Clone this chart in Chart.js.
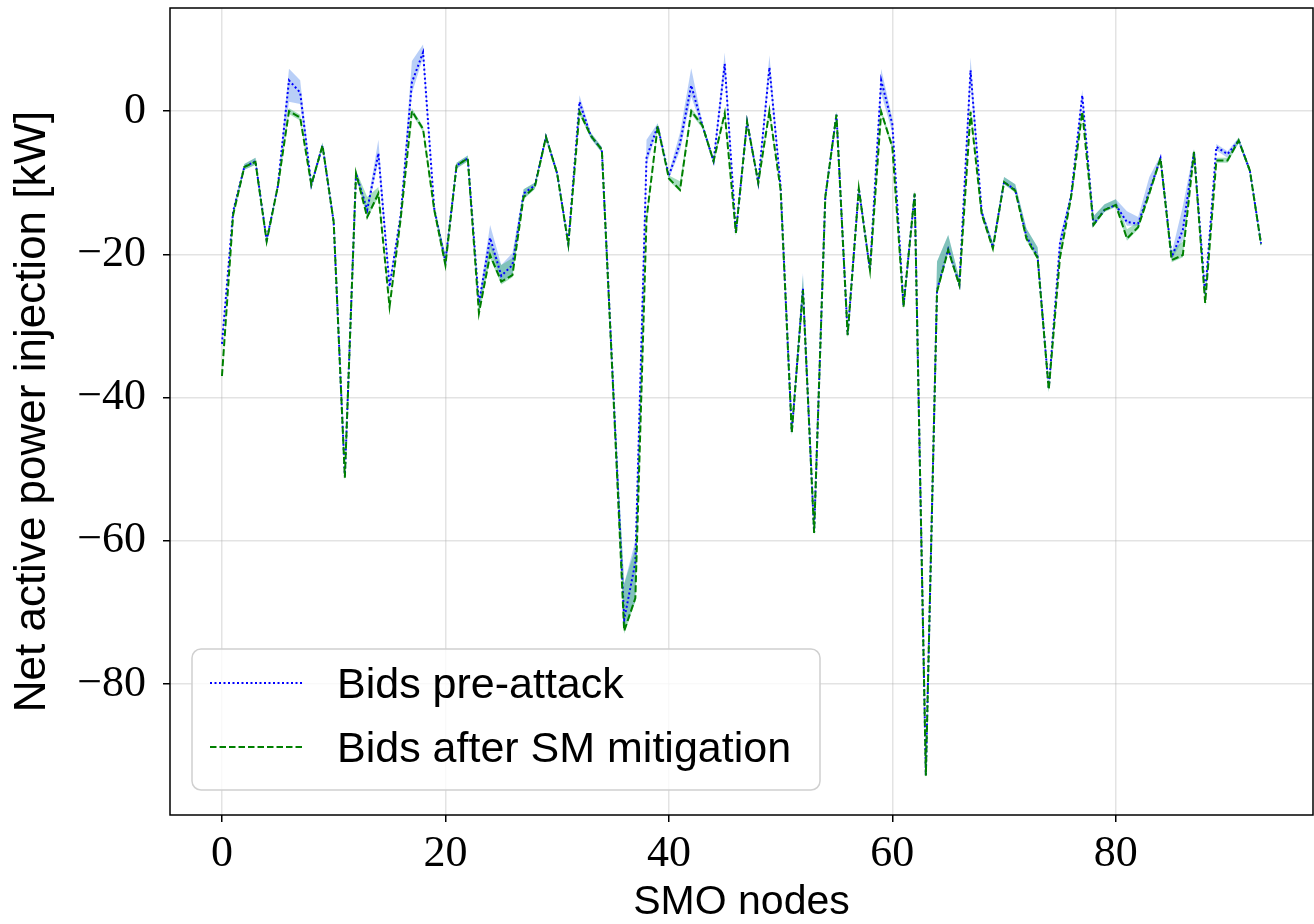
<!DOCTYPE html>
<html>
<head>
<meta charset="utf-8">
<script src="https://cdn.jsdelivr.net/npm/chart.js@4.4.1/dist/chart.umd.min.js"></script>
<style>
  html, body { margin: 0; padding: 0; background: #fff; }
</style>
</head>
<body>
<canvas id="bids-chart" width="1314" height="924"></canvas>
<script>
// SMO node index (x axis)
const nodes = Array.from({ length: 94 }, (_, i) => i);

// net active power injection [kW]
const preAttack = [
  -32.5, -14.0, -7.8, -7.0, -18.0, -10.5, 4.3, 2.6, -10.3, -4.8,
  -15.5, -51.0, -8.7, -13.8, -5.9, -24.5, -14.5, 4.0, 8.2, -13.6,
  -21.0, -7.6, -6.6, -26.8, -17.7, -23.0, -21.5, -11.5, -10.4, -3.6,
  -8.7, -18.5, 1.3, -3.4, -5.4, -38.0, -71.0, -63.0, -6.5, -2.1,
  -9.0, -4.5, 3.6, -2.0, -7.0, 6.6, -17.0, -1.5, -10.0, 6.1,
  -10.5, -44.8, -24.8, -58.8, -12.0, -0.5, -31.2, -10.8, -22.2, 4.3,
  -1.8, -27.2, -11.5, -92.7, -25.0, -19.3, -24.2, 5.7, -14.1, -19.0,
  -9.9, -11.0, -17.5, -20.3, -38.8, -18.5, -11.8, 2.2, -15.8, -13.8,
  -13.1, -15.5, -15.7, -11.2, -6.6, -20.4, -16.6, -5.7, -25.5, -5.0,
  -6.0, -4.1, -8.3, -18.5
];
const preLow = [
  -33.2, -14.5, -8.2, -7.5, -18.4, -10.9, 1.3, 1.0, -10.7, -5.2,
  -15.9, -51.4, -9.1, -14.3, -7.0, -25.2, -15.0, 2.5, 7.5, -14.0,
  -21.5, -8.0, -7.0, -28.0, -19.0, -23.8, -22.9, -12.2, -10.8, -4.0,
  -9.1, -18.9, 0.3, -3.8, -5.8, -39.0, -72.0, -68.5, -7.5, -2.5,
  -9.4, -5.5, 2.0, -2.4, -7.4, 5.5, -17.4, -1.9, -10.4, 5.0,
  -11.0, -45.2, -25.2, -59.2, -12.4, -0.9, -31.6, -11.2, -22.6, 2.5,
  -3.0, -27.6, -11.9, -93.1, -25.5, -19.6, -24.5, 4.0, -14.5, -19.4,
  -10.2, -11.3, -17.8, -20.6, -39.2, -19.0, -12.2, 1.5, -16.0, -14.0,
  -13.3, -16.0, -16.0, -11.5, -7.0, -20.8, -18.0, -6.1, -26.5, -5.5,
  -6.5, -4.5, -8.7, -18.9
];
const preHigh = [
  -31.8, -13.5, -7.4, -6.5, -17.6, -10.1, 5.9, 4.3, -9.9, -4.4,
  -15.1, -50.6, -8.3, -13.3, -4.0, -23.8, -14.0, 7.0, 9.3, -13.2,
  -20.2, -7.2, -6.2, -26.3, -15.9, -21.5, -19.8, -10.9, -10.0, -3.2,
  -8.3, -18.1, 2.2, -3.0, -5.0, -37.0, -66.0, -60.0, -4.0, -1.7,
  -8.6, -3.0, 6.0, -1.6, -6.6, 8.2, -16.6, -1.1, -9.6, 7.8,
  -10.0, -44.2, -22.6, -58.4, -11.6, -0.1, -30.8, -10.4, -21.8, 5.9,
  -1.0, -26.8, -11.1, -92.3, -21.0, -17.3, -23.4, 7.5, -13.6, -18.4,
  -9.2, -10.2, -16.4, -19.0, -38.4, -17.5, -11.3, 3.0, -14.7, -13.0,
  -12.3, -14.0, -14.8, -9.2, -6.2, -19.8, -13.3, -5.3, -24.5, -4.6,
  -5.6, -3.7, -7.9, -18.1
];

const postMitigation = [
  -37.0, -14.5, -7.8, -7.1, -18.2, -10.5, 0.0, -0.9, -10.3, -4.8,
  -15.5, -51.2, -8.7, -14.8, -11.5, -27.3, -15.0, 0.0, -2.5, -13.8,
  -21.5, -7.6, -6.6, -28.2, -20.1, -23.8, -22.9, -12.0, -10.6, -3.6,
  -8.7, -18.6, -0.1, -3.4, -5.4, -38.5, -72.6, -68.0, -15.0, -2.1,
  -9.4, -11.0, 0.0, -2.0, -7.0, -0.3, -17.0, -1.5, -10.0, 0.0,
  -11.0, -44.9, -25.0, -58.9, -12.0, -0.5, -31.3, -10.8, -22.2, -0.1,
  -5.0, -27.3, -11.5, -92.8, -25.2, -19.4, -24.3, -0.1, -14.4, -19.2,
  -9.9, -11.1, -17.8, -20.5, -38.9, -20.5, -12.0, -0.1, -15.9, -13.8,
  -13.1, -17.8, -16.2, -11.5, -6.6, -20.8, -20.1, -5.7, -26.8, -6.9,
  -6.9, -4.1, -8.3, -18.6
];
const postLow = [
  -37.4, -14.9, -8.2, -7.5, -18.6, -10.9, -0.4, -1.3, -10.7, -5.2,
  -15.9, -51.6, -9.1, -15.0, -12.0, -27.7, -15.4, -0.4, -2.9, -14.2,
  -21.8, -8.0, -7.0, -28.6, -20.5, -24.2, -23.2, -12.3, -10.9, -4.0,
  -9.1, -19.0, -0.5, -3.8, -5.8, -39.0, -73.0, -68.5, -15.4, -2.5,
  -9.7, -11.3, -0.4, -2.4, -7.4, -0.7, -17.4, -1.9, -10.4, -0.4,
  -11.4, -45.3, -25.4, -59.3, -12.4, -0.9, -31.7, -11.2, -22.6, -0.5,
  -5.4, -27.7, -11.9, -93.2, -25.6, -19.7, -24.6, -0.5, -14.7, -19.5,
  -10.2, -11.4, -18.1, -20.8, -39.3, -20.9, -12.4, -0.5, -16.2, -14.1,
  -13.4, -18.1, -16.5, -11.9, -7.0, -21.1, -20.4, -6.1, -27.2, -7.2,
  -7.2, -4.5, -8.7, -19.0
];
const postHigh = [
  -36.6, -14.1, -7.4, -6.5, -17.8, -10.1, 0.4, -0.5, -9.9, -4.4,
  -15.1, -50.8, -8.3, -12.0, -10.6, -26.9, -14.6, 0.4, -2.1, -13.4,
  -20.0, -7.2, -6.2, -26.5, -18.5, -21.5, -20.5, -10.9, -10.0, -3.2,
  -8.3, -18.2, 0.3, -3.0, -5.0, -38.0, -66.0, -61.0, -14.6, -1.7,
  -9.0, -9.8, 0.4, -1.6, -6.6, 0.1, -16.6, -1.1, -9.6, 0.4,
  -10.6, -44.5, -23.0, -58.5, -11.6, -0.1, -30.9, -10.4, -21.8, 0.3,
  -4.6, -26.9, -11.1, -92.4, -21.0, -17.3, -23.4, 0.3, -13.8, -18.3,
  -9.2, -10.2, -16.4, -19.0, -38.5, -19.0, -11.6, 0.3, -14.7, -13.0,
  -12.3, -16.5, -15.5, -11.1, -6.2, -19.5, -18.2, -5.3, -26.4, -6.5,
  -6.5, -3.7, -7.9, -18.2
];

const xTicks = [0, 20, 40, 60, 80];
const yTicks = [-80, -60, -40, -20, 0];
const seriesNames = ['Bids pre-attack', 'Bids after SM mitigation'];

const pts = (vals) => nodes.map((n, i) => ({ x: n, y: vals[i] }));

const serif = '"Liberation Serif", "DejaVu Serif", serif';
const sans = '"Liberation Sans", "DejaVu Sans", sans-serif';

const minusFmt = (v) => (v < 0 ? '\u2212' + Math.abs(v) : String(v));

// matplotlib-like frame around the axes
const framePlugin = {
    id: 'frame',
    afterDatasetsDraw(chart) {
        const { ctx, chartArea: a } = chart;
        ctx.save();
        ctx.strokeStyle = '#000';
        ctx.lineWidth = 1.5;
        ctx.strokeRect(a.left, a.top, a.right - a.left, a.bottom - a.top);
        ctx.restore();
    }
};

// legend drawn inside the plot, lower left
const boxLegend = {
    id: 'boxLegend',
    afterDraw(chart) {
        const { ctx, chartArea: a } = chart;
        const x = a.left + 22, y = a.bottom - 166, w = 628, h = 141, r = 9;
        ctx.save();
        ctx.beginPath();
        ctx.roundRect(x, y, w, h, r);
        ctx.fillStyle = 'rgba(255,255,255,0.8)';
        ctx.fill();
        ctx.strokeStyle = '#d0d0d0';
        ctx.lineWidth = 1.5;
        ctx.stroke();

        const rows = [
            { label: seriesNames[0], color: 'blue', dash: [2, 2.5], cy: y + 34 },
            { label: seriesNames[1], color: 'green', dash: [6.5, 3], cy: y + 98 }
        ];
        rows.forEach(row => {
            ctx.beginPath();
            ctx.setLineDash(row.dash);
            ctx.strokeStyle = row.color;
            ctx.lineWidth = 1.8;
            ctx.moveTo(x + 18, row.cy);
            ctx.lineTo(x + 111, row.cy);
            ctx.stroke();
            ctx.setLineDash([]);
            ctx.fillStyle = '#000';
            ctx.font = '43px ' + sans;
            ctx.textBaseline = 'alphabetic';
            ctx.textAlign = 'left';
            ctx.fillText(row.label, x + 145, row.cy + 15);
        });
        ctx.restore();
    }
};

const ctx = document.getElementById('bids-chart');

new Chart(ctx, {
    type: 'line',
    data: {
        datasets: [
            {
                label: seriesNames[0],
                data: pts(preAttack),
                borderColor: 'blue',
                borderWidth: 2,
                borderDash: [2, 2.5],
                pointRadius: 0,
                fill: false,
                order: 1
            },
            {
                label: seriesNames[1],
                data: pts(postMitigation),
                borderColor: 'green',
                borderWidth: 2,
                borderDash: [7, 3],
                pointRadius: 0,
                fill: false,
                order: 0
            },
            {
                label: 'pre low',
                data: pts(preLow),
                borderWidth: 0,
                borderColor: 'rgba(0,0,0,0)',
                pointRadius: 0,
                fill: false,
                order: 4
            },
            {
                label: 'pre high',
                data: pts(preHigh),
                borderWidth: 0,
                borderColor: 'rgba(0,0,0,0)',
                backgroundColor: 'rgba(100,149,237,0.45)',
                pointRadius: 0,
                fill: '-1',
                order: 4
            },
            {
                label: 'post low',
                data: pts(postLow),
                borderWidth: 0,
                borderColor: 'rgba(0,0,0,0)',
                pointRadius: 0,
                fill: false,
                order: 3
            },
            {
                label: 'post high',
                data: pts(postHigh),
                borderWidth: 0,
                borderColor: 'rgba(0,0,0,0)',
                backgroundColor: 'rgba(60,179,113,0.45)',
                pointRadius: 0,
                fill: '-1',
                order: 3
            }
        ]
    },
    options: {
        responsive: false,
        animation: false,
        devicePixelRatio: 1,
        layout: { padding: { top: 8, right: 1, left: 0, bottom: 0 } },
        elements: { line: { tension: 0 } },
        plugins: {
            legend: { display: false },
            tooltip: { enabled: false }
        },
        scales: {
            x: {
                type: 'linear',
                min: -4.65,
                max: 97.65,
                afterFit: (s) => {
                    s.height = 109;
                    s.paddingLeft = 0;
                    s.paddingRight = 0;
                },
                afterBuildTicks: (s) => { s.ticks = xTicks.map(v => ({ value: v })); },
                grid: {
                    color: 'rgba(176,176,176,0.35)',
                    lineWidth: 1.5,
                    tickColor: '#000',
                    tickLength: 7,
                    tickWidth: 1.5
                },
                border: { display: false },
                ticks: {
                    color: '#000',
                    font: { family: serif, size: 44 },
                    padding: 6,
                    maxRotation: 0,
                    callback: minusFmt
                },
                title: {
                    display: true,
                    text: 'SMO nodes',
                    color: '#000',
                    font: { family: sans, size: 41, lineHeight: 1 },
                    padding: { top: 0, bottom: 1 }
                }
            },
            y: {
                type: 'linear',
                min: -98.3,
                max: 14.4,
                afterFit: (s) => {
                    s.width = 170;
                    s.paddingTop = 0;
                    s.paddingBottom = 0;
                },
                afterBuildTicks: (s) => { s.ticks = yTicks.map(v => ({ value: v })); },
                grid: {
                    color: 'rgba(176,176,176,0.35)',
                    lineWidth: 1.5,
                    tickColor: '#000',
                    tickLength: 7,
                    tickWidth: 1.5
                },
                border: { display: false },
                ticks: {
                    color: '#000',
                    font: { family: serif, size: 44 },
                    padding: 17,
                    callback: minusFmt
                },
                title: {
                    display: true,
                    text: 'Net active power injection [kW]',
                    color: '#000',
                    font: { family: sans, size: 44, lineHeight: 1 },
                    padding: { top: 11, bottom: 0 }
                }
            }
        }
    },
    plugins: [framePlugin, boxLegend]
});
</script>
</body>
</html>
